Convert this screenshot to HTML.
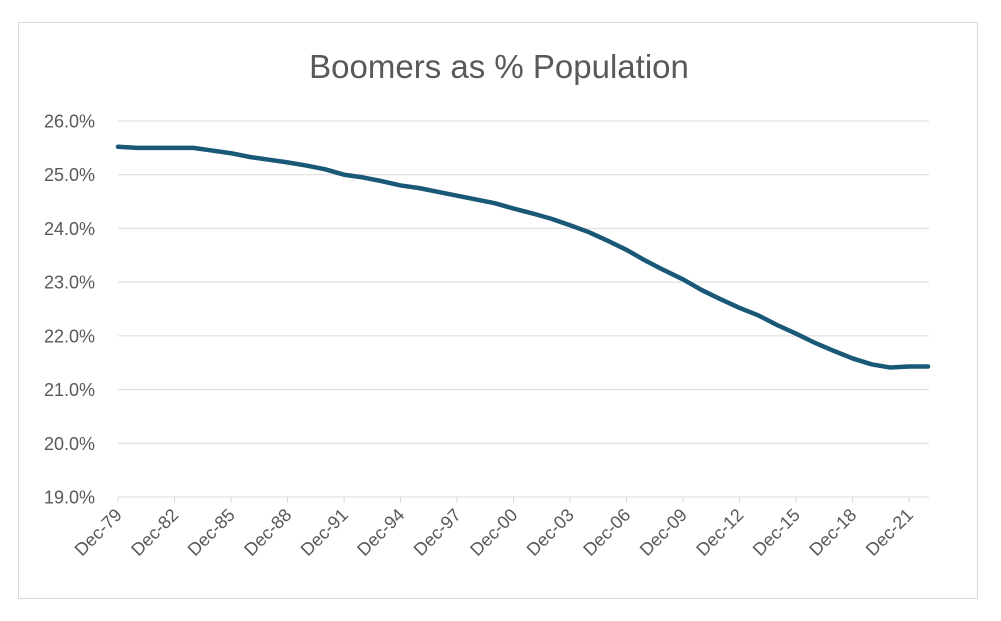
<!DOCTYPE html>
<html><head><meta charset="utf-8"><style>
body{margin:0;background:#fff;}
svg{display:block;font-family:"Liberation Sans",sans-serif;}
</style></head><body>
<svg id="chart" width="1001" height="621">
<rect x="18.5" y="22.5" width="959" height="576" fill="#fff" stroke="#d9d9d9"/>
<text x="499" y="78" text-anchor="middle" font-size="33" fill="#595959">Boomers as % Population</text>
<g id="grid"></g><g id="xaxis"></g><g id="series"></g>
</svg>
<script>
const years=[];for(let y=1979;y<=2022;y++)years.push(y);
const values=[25.52,25.50,25.50,25.50,25.50,25.45,25.40,25.33,25.28,25.23,25.17,25.10,25.00,24.95,24.88,24.80,24.75,24.68,24.61,24.54,24.47,24.37,24.28,24.18,24.06,23.93,23.77,23.60,23.40,23.22,23.05,22.85,22.68,22.52,22.38,22.20,22.04,21.87,21.72,21.58,21.47,21.41,21.43,21.43];
const yTicks=[19,20,21,22,23,24,25,26];
const NS="http://www.w3.org/2000/svg";
const x0=118,x1=928,yBot=497,yTop=121;
const xs=i=>x0+(x1-x0)*i/(years.length-1);
const ys=v=>yBot-(v-19)/(26-19)*(yBot-yTop);
function mk(t,a,p){const e=document.createElementNS(NS,t);for(const k in a)e.setAttribute(k,a[k]);p.appendChild(e);return e;}
const grid=document.getElementById('grid');
yTicks.forEach(v=>{
  const l=mk('line',{x1:x0,x2:x1+1,y1:ys(v),y2:ys(v),stroke:'#d9d9d9','stroke-width':1},grid);
  
  
  const t=mk('text',{x:95,y:ys(v)+6.5,'text-anchor':'end','font-size':18,fill:'#595959'},grid);
  t.textContent=v.toFixed(1)+'%';
  
  
});
const xa=document.getElementById('xaxis');
years.forEach((y,i)=>{
  if((y-1979)%3!==0)return;
  const x=xs(i);
  const tk=mk('line',{x1:x,x2:x,y1:yBot,y2:yBot+6,stroke:'#d9d9d9'},xa);
  
  
  const t=mk('text',{x:x+5,y:yBot+19,'text-anchor':'end','font-size':18,fill:'#595959',transform:`rotate(-45 ${x+5} ${yBot+19})`},xa);
  t.textContent='Dec-'+String(y%100).padStart(2,'0');
  
  
});
const s=document.getElementById('series');
const p=mk('polyline',{points:values.map((v,i)=>xs(i)+','+ys(v)).join(' '),fill:'none',stroke:'#195877','stroke-width':4.5,'stroke-linejoin':'round','stroke-linecap':'round'},s);


</script>
</body></html>
